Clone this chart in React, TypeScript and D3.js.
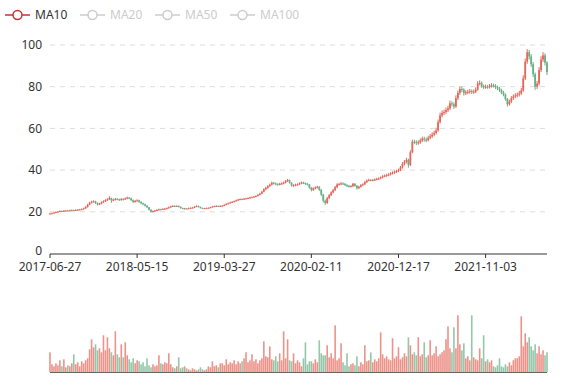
import React from 'react';
import * as d3 from 'd3';

const tickLabels = ['2017-06-27', '2018-05-15', '2019-03-27', '2020-02-11', '2020-12-17', '2021-11-03'];
const tickIndex = [0, 44, 88, 132, 176, 220];
const legendNames = ['MA10', 'MA20', 'MA50', 'MA100'];
const legendOn = [true, false, false, false];
const yTicks = [0, 20, 40, 60, 80, 100];
const firstOpen = 19.0;

const closes = [
  19.2,19.3,19.6,19.9,20.1,20.4,20.3,20.5,20.6,20.5,
  20.7,20.8,20.7,20.9,21.0,21.1,21.2,21.6,22.3,23.4,
  24.3,24.8,25.0,24.2,23.5,23.9,24.6,25.0,25.6,26.0,
  26.6,25.5,25.8,26.2,26.0,25.7,26.1,26.0,26.4,26.8,
  26.5,25.6,24.7,25.2,25.5,24.8,24.1,23.6,22.9,22.2,
  21.0,20.0,20.3,20.6,20.9,21.2,21.1,21.4,21.5,21.8,
  22.2,22.6,22.8,22.6,22.8,22.4,21.8,21.5,21.6,21.5,
  21.7,21.9,22.0,22.4,22.8,22.3,21.8,21.6,21.7,21.8,
  21.9,22.2,22.5,22.7,22.8,22.6,22.8,22.9,23.3,23.8,
  24.1,24.5,24.8,25.1,25.5,25.9,26.1,26.0,26.3,26.4,
  26.6,26.9,27.0,27.3,27.6,28.1,28.7,29.6,30.8,31.5,
  32.3,33.0,33.9,33.6,33.2,33.1,33.4,33.6,34.0,34.7,
  35.2,34.0,32.6,32.7,33.0,33.1,33.6,34.0,33.8,33.4,
  33.1,31.6,30.4,31.2,31.7,32.0,30.6,28.2,25.3,24.2,
  26.6,28.0,29.3,30.4,31.8,33.1,33.3,33.6,33.4,32.8,
  32.4,32.1,32.3,33.4,32.5,31.3,32.0,32.8,33.2,34.2,
  35.0,35.3,35.1,35.2,35.5,35.8,36.0,36.5,37.0,37.3,
  37.6,37.9,38.4,38.8,39.2,39.6,40.0,41.3,43.0,44.0,
  44.9,42.5,48.6,53.6,53.5,53.1,53.3,54.2,55.1,54.6,
  54.4,55.5,56.2,57.0,57.8,59.0,63.0,66.2,67.4,67.9,
  68.8,69.6,72.0,71.6,70.5,74.5,77.0,78.9,78.6,76.9,
  77.3,77.5,77.9,77.4,77.6,78.6,81.5,81.8,80.3,79.8,
  80.0,79.9,80.4,80.7,80.5,79.8,79.2,78.4,77.3,76.3,
  74.1,71.6,72.9,74.5,75.3,75.8,76.2,76.8,78.2,84.0,
  92.0,96.5,94.5,90.8,86.0,80.0,81.5,88.0,93.0,95.0,
  91.5,87.0,
];

const lows = [
  18.8,19.0,19.1,19.4,19.7,19.9,20.0,20.1,20.3,20.2,
  20.3,20.5,20.4,20.5,20.6,20.8,20.9,21.0,21.4,22.0,
  23.1,24.0,24.4,23.8,23.0,23.2,23.6,24.2,24.7,25.2,
  25.7,24.3,25.1,25.4,25.5,25.2,25.3,25.5,25.7,26.0,
  26.0,25.2,24.2,24.4,24.9,24.3,23.6,23.1,22.5,21.8,
  20.6,19.6,19.7,20.0,20.3,20.6,20.8,20.8,21.1,21.2,
  21.5,21.9,22.3,22.3,22.3,22.1,21.5,21.2,21.3,21.2,
  21.3,21.5,21.7,21.8,22.2,22.0,21.6,21.4,21.4,21.5,
  21.6,21.7,22.0,22.3,22.5,22.4,22.4,22.6,22.7,23.1,
  23.5,23.9,24.2,24.5,24.9,25.2,25.6,25.7,25.8,26.0,
  26.1,26.3,26.6,26.8,27.0,27.3,27.8,28.4,29.3,30.3,
  31.0,31.9,32.6,33.1,32.7,32.6,32.7,33.0,33.2,33.6,
  34.3,33.5,32.1,32.0,32.3,32.6,32.8,33.2,33.3,32.9,
  32.6,31.0,29.8,30.0,30.8,31.2,30.0,27.5,24.5,23.3,
  23.8,26.1,27.5,28.8,30.0,31.3,32.6,32.9,32.9,32.3,
  31.9,31.6,31.7,31.9,32.0,30.6,30.9,31.6,32.3,32.8,
  33.8,34.6,34.6,34.7,34.8,35.1,35.3,35.6,36.0,36.6,
  36.8,37.1,37.4,37.9,38.2,38.6,39.0,39.5,40.7,42.2,
  43.2,41.2,41.9,48.0,52.5,52.0,52.2,52.6,53.4,53.6,
  53.4,53.7,54.8,55.4,56.2,57.0,58.4,62.3,65.3,66.4,
  66.9,67.8,68.8,70.5,69.3,69.8,73.6,76.0,77.4,75.7,
  76.0,76.4,76.6,76.5,76.6,76.9,78.0,80.6,79.4,78.8,
  79.0,79.0,79.1,79.6,79.6,78.9,78.3,77.5,76.4,75.4,
  73.2,70.5,70.9,72.1,73.7,74.5,74.9,75.3,76.0,77.6,
  83.2,91.0,93.0,89.5,84.6,78.5,78.9,80.6,87.0,91.8,
  90.2,85.6,
];

const highs = [
  19.5,19.6,19.8,20.2,20.4,20.7,20.6,20.8,20.9,20.8,
  21.0,21.1,21.0,21.2,21.3,21.4,21.6,22.0,22.7,23.8,
  24.8,25.3,25.5,25.3,24.5,24.3,25.0,25.5,26.0,26.5,
  27.5,26.8,26.3,26.7,26.6,26.3,26.6,26.5,26.9,27.3,
  27.1,26.8,25.9,25.7,26.0,25.8,25.0,24.4,23.9,23.2,
  22.4,21.2,20.6,20.9,21.2,21.5,21.5,21.7,21.8,22.1,
  22.5,22.9,23.2,23.1,23.1,23.0,22.6,22.0,21.9,21.8,
  22.0,22.1,22.3,22.7,23.1,23.0,22.5,22.0,21.9,22.0,
  22.1,22.4,22.7,23.0,23.1,23.0,23.1,23.2,23.6,24.1,
  24.4,24.8,25.1,25.4,25.8,26.2,26.4,26.4,26.6,26.7,
  26.9,27.2,27.3,27.6,27.9,28.5,29.1,30.0,31.3,32.0,
  32.8,33.5,34.5,34.3,34.0,33.7,33.9,34.1,34.5,35.2,
  35.8,35.5,34.2,33.2,33.5,33.6,34.1,34.5,34.4,34.1,
  33.8,33.3,31.9,31.7,32.2,32.5,32.3,30.9,28.6,25.9,
  27.1,28.5,29.8,30.9,32.4,33.7,33.9,34.2,34.1,33.8,
  33.3,32.9,32.8,33.9,33.8,32.8,32.5,33.3,33.7,34.8,
  35.5,35.9,35.7,35.7,36.0,36.3,36.5,37.0,37.6,37.9,
  38.2,38.5,39.0,39.4,39.8,40.2,40.7,42.0,43.8,44.8,
  45.9,45.5,49.5,54.6,54.6,54.3,54.3,55.2,56.1,56.0,
  55.6,56.5,57.3,58.1,58.9,60.3,64.3,67.5,68.6,69.0,
  70.0,70.9,73.4,73.0,72.5,75.8,78.2,80.2,80.0,79.3,
  78.3,78.5,78.9,78.7,78.6,79.7,82.6,83.0,82.5,81.0,
  81.0,80.9,81.3,81.7,81.5,81.2,80.5,79.9,79.0,78.0,
  76.8,74.6,73.8,75.5,76.3,76.9,77.2,78.0,79.4,85.5,
  93.5,98.0,97.6,95.6,91.8,86.8,82.8,89.4,94.6,96.6,
  96.0,92.3,
];

const volumes = [
  20,8,6,9,7,12,
  6,13,5,7,6,
  9,18,8,10,6,
  11,9,12,14,
  23,33,25,28,22,24,
  20,37,22,35,24,20,
  17,41,18,15,
  28,15,30,17,13,
  10,14,9,12,11,8,10,
  6,14,7,5,8,6,7,
  17,9,8,10,9,19,8,
  5,4,6,15,4,5,6,4,
  3,2,4,3,2,3,5,3,2,3,
  6,5,11,6,7,5,9,
  9,7,13,8,10,9,12,8,11,9,
  11,14,20,10,12,18,11,13,9,12,
  14,31,16,15,26,13,
  12,16,11,19,12,
  41,14,33,12,
  11,19,9,12,10,
  6,14,
  30,8,11,
  11,9,13,10,
  32,19,17,
  17,27,15,19,14,
  47,
  12,14,29,10,
  7,19,6,8,9,7,16,6,10,8,
  27,11,12,20,10,13,11,
  14,40,18,14,16,13,12,
  34,14,16,25,13,15,
  19,16,35,27,18,20,17,
  35,16,18,30,15,17,
  32,17,19,26,16,18,20,
  22,33,46,24,20,
  45,24,57,28,22,
  29,14,16,12,57,15,13,
  12,24,14,37,11,13,10,12,
  6,5,7,14,6,5,8,6,10,7,12,14,
  14,16,56,
  26,39,30,35,26,22,28,
  19,26,18,22,17,20,
];

const UP = '#e2584a';
const DOWN = '#5aa77a';
const FONT = '"Noto Sans", "DejaVu Sans", sans-serif';

export default function App() {
  const W = 577;
  const H = 380;
  const N = closes.length;
  const x = d3.scalePoint<number>().domain(d3.range(N)).range([50, 547]);
  const y = d3.scaleLinear().domain([0, 100]).range([253.5, 45]);
  const yv = d3.scaleLinear().domain([0, 72]).range([372.3, 300.3]);
  const opens = closes.map((c, i) => (i === 0 ? firstOpen : closes[i - 1]));

  const legendX = [5, 80, 155, 230];

  return (
    <svg width={W} height={H} style={{ position: 'absolute', left: 0, top: 0, background: '#fff' }} fontFamily={FONT}>
      {/* legend */}
      {legendNames.map((n, k) => {
        const c = legendOn[k] ? '#c23531' : '#ccc';
        const x0 = legendX[k];
        return (
          <g key={n}>
            <line x1={x0} x2={x0 + 25} y1={15} y2={15} stroke={c} strokeWidth={1.5} />
            <circle cx={x0 + 12.5} cy={15} r={4.5} fill="#fff" stroke={c} strokeWidth={1.5} />
            <text x={x0 + 30} y={15} dy="0.35em" fontSize={12} fill={legendOn[k] ? '#333' : '#ccc'}>{n}</text>
          </g>
        );
      })}

      {/* grid lines */}
      {yTicks.filter((t) => t > 0).map((t) => (
        <line key={t} x1={50} x2={547} y1={y(t)} y2={y(t)} stroke="#ddd" strokeDasharray="5,5" />
      ))}
      {yTicks.map((t) => (
        <text key={t} x={42} y={y(t) - (t === 0 ? 3 : 0)} dy="0.35em" textAnchor="end" fontSize={12} fill="#333">{t}</text>
      ))}

      {/* candles */}
      {closes.map((c, i) => {
        const o = opens[i];
        const col = c >= o ? UP : DOWN;
        const cx = x(i) as number;
        const top = y(Math.max(o, c));
        const h = Math.max(1, Math.abs(y(o) - y(c)));
        return (
          <g key={i} opacity={0.9}>
            <line x1={cx} x2={cx} y1={y(highs[i])} y2={y(lows[i])} stroke={col} strokeWidth={1} />
            <rect x={cx - 0.9} y={top} width={1.8} height={h} fill={col} />
          </g>
        );
      })}

      {/* x axis */}
      <line x1={50} x2={547} y1={254} y2={254} stroke="#333" />
      {tickIndex.map((ti, k) => (
        <g key={ti}>
          <line x1={x(ti) as number} x2={x(ti) as number} y1={254} y2={258} stroke="#333" />
          <text x={x(ti) as number} y={267} dy="0.35em" textAnchor="middle" fontSize={12} fill="#333">{tickLabels[k]}</text>
        </g>
      ))}

      {/* volume */}
      {volumes.slice(0, N).map((v, i) => {
        const col = closes[i] >= opens[i] ? UP : DOWN;
        const cx = x(i) as number;
        return (
          <rect key={i} x={cx - 0.8} y={yv(v)} width={1.6} height={yv(0) - yv(v)} fill={col} fillOpacity={0.65} />
        );
      })}
      <line x1={50} x2={547} y1={372.5} y2={372.5} stroke="#666" />
    </svg>
  );
}
